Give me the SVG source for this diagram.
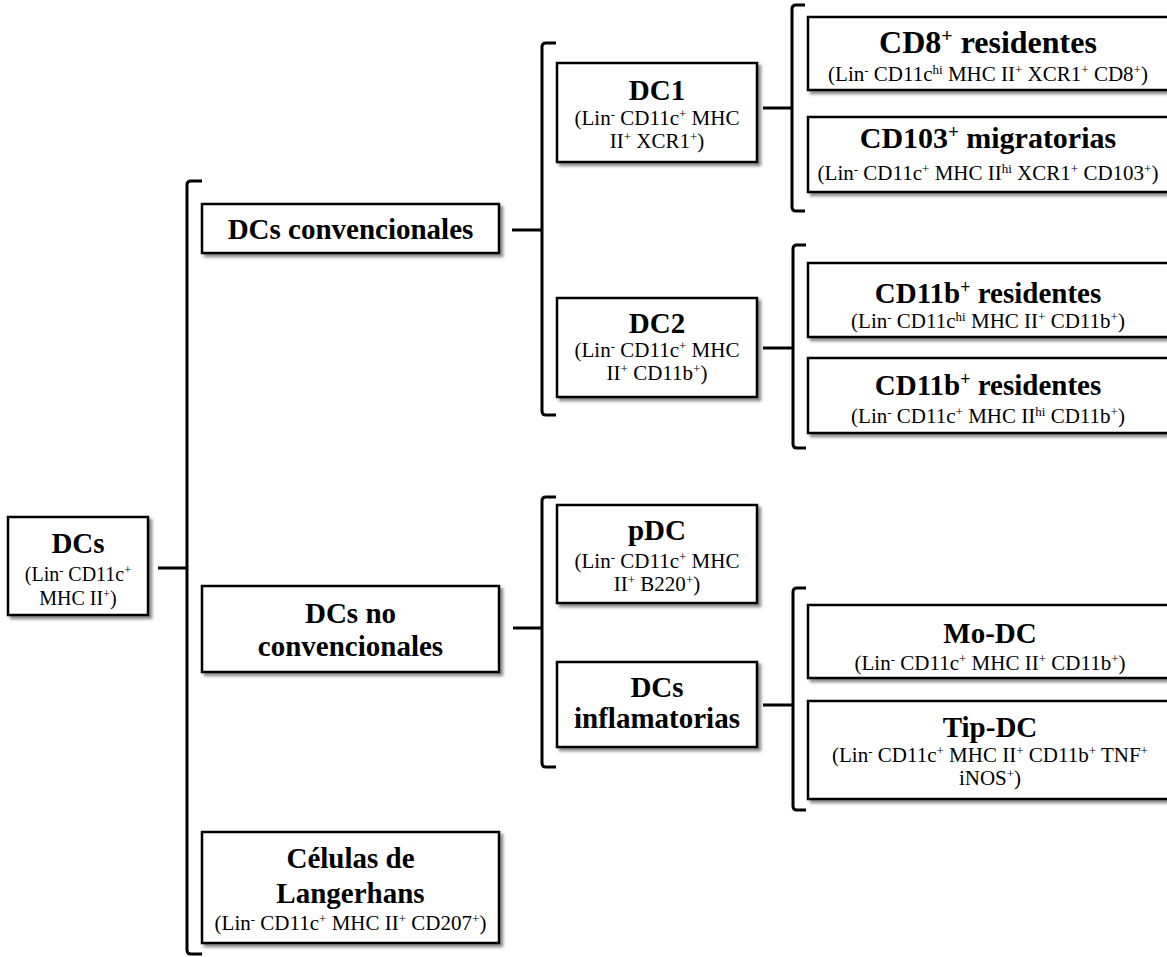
<svg xmlns="http://www.w3.org/2000/svg" width="1167" height="957" viewBox="0 0 1167 957">
<defs>
<filter id="sh" x="-5%" y="-10%" width="115%" height="130%">
<feDropShadow dx="3" dy="3" stdDeviation="1.5" flood-color="#000" flood-opacity="0.45"/>
</filter>
</defs>
<style>
.box{fill:#fff;stroke:#000;stroke-width:2.5;filter:url(#sh)}
.t{font-family:"Liberation Serif","Times New Roman",serif;font-weight:bold;font-size:29px;text-anchor:middle;fill:#000}
.s{font-family:"Liberation Serif","Times New Roman",serif;font-size:21px;text-anchor:middle;fill:#000}
.sup{font-size:62%;baseline-shift:super}
.br{fill:none;stroke:#000;stroke-width:3}
</style>
<rect width="1167" height="957" fill="#fff"/>
<g id="connectors">
<path class="br" d="M158,568 L187,568 M202,181 L191,181 Q187,181 187,185 L187,950 Q187,954 191,954 L202,954"/>
<path class="br" d="M512,230 L542,230 M556,43 L546,43 Q542,43 542,47 L542,411 Q542,415 546,415 L556,415"/>
<path class="br" d="M763,108 L792,108 M805,5 L796,5 Q792,5 792,9 L792,207 Q792,211 796,211 L805,211"/>
<path class="br" d="M763,348 L793,348 M806,245 L797,245 Q793,245 793,249 L793,444 Q793,448 797,448 L806,448"/>
<path class="br" d="M513,628 L542,628 M556,497 L546,497 Q542,497 542,501 L542,763 Q542,767 546,767 L556,767"/>
<path class="br" d="M763,705 L793,705 M806,588 L797,588 Q793,588 793,592 L793,806 Q793,810 797,810 L806,810"/>
</g>
<g id="dcs">
<rect class="box" x="8" y="517" width="140" height="98"/>
<text class="t" x="78" y="553">DCs</text>
<text class="s" x="78" y="581" style="font-size:20px">(Lin<tspan class="sup">-</tspan> CD11c<tspan class="sup">+</tspan></text>
<text class="s" x="78" y="605" style="font-size:20px">MHC II<tspan class="sup">+</tspan>)</text>
</g>
<g id="conv">
<rect class="box" x="202" y="204" width="297" height="49"/>
<text class="t" x="350.5" y="239">DCs convencionales</text>
</g>
<g id="noconv">
<rect class="box" x="202" y="586" width="297" height="86"/>
<text class="t" x="350.5" y="623">DCs no</text>
<text class="t" x="350.5" y="656">convencionales</text>
</g>
<g id="langerhans">
<rect class="box" x="202" y="832" width="297" height="111"/>
<text class="t" x="350.5" y="868">Células de</text>
<text class="t" x="350.5" y="903">Langerhans</text>
<text class="s" x="350.5" y="930">(Lin<tspan class="sup">-</tspan> CD11c<tspan class="sup">+</tspan> MHC II<tspan class="sup">+</tspan> CD207<tspan class="sup">+</tspan>)</text>
</g>
<g id="dc1">
<rect class="box" x="557" y="63" width="200" height="99"/>
<text class="t" x="657" y="100">DC1</text>
<text class="s" x="657" y="125">(Lin<tspan class="sup">-</tspan> CD11c<tspan class="sup">+</tspan> MHC</text>
<text class="s" x="657" y="148">II<tspan class="sup">+</tspan> XCR1<tspan class="sup">+</tspan>)</text>
</g>
<g id="dc2">
<rect class="box" x="557" y="298" width="200" height="99"/>
<text class="t" x="657" y="333">DC2</text>
<text class="s" x="657" y="357">(Lin<tspan class="sup">-</tspan> CD11c<tspan class="sup">+</tspan> MHC</text>
<text class="s" x="657" y="380">II<tspan class="sup">+</tspan> CD11b<tspan class="sup">+</tspan>)</text>
</g>
<g id="pdc">
<rect class="box" x="557" y="505" width="200" height="98"/>
<text class="t" x="657" y="540">pDC</text>
<text class="s" x="657" y="568">(Lin<tspan class="sup">-</tspan> CD11c<tspan class="sup">+</tspan> MHC</text>
<text class="s" x="657" y="591">II<tspan class="sup">+</tspan> B220<tspan class="sup">+</tspan>)</text>
</g>
<g id="inflam">
<rect class="box" x="557" y="662" width="200" height="85"/>
<text class="t" x="657" y="697">DCs</text>
<text class="t" x="657" y="728">inflamatorias</text>
</g>
<g id="cd8">
<rect class="box" x="808" y="17" width="380" height="73"/>
<text class="t" x="988" y="53" style="font-size:32px">CD8<tspan class="sup">+</tspan> residentes</text>
<text class="s" x="988" y="81">(Lin<tspan class="sup">-</tspan> CD11c<tspan class="sup">hi</tspan> MHC II<tspan class="sup">+</tspan> XCR1<tspan class="sup">+</tspan> CD8<tspan class="sup">+</tspan>)</text>
</g>
<g id="cd103">
<rect class="box" x="808" y="117" width="380" height="75"/>
<text class="t" x="988" y="148" style="font-size:30px">CD103<tspan class="sup">+</tspan> migratorias</text>
<text class="s" x="988" y="180">(Lin<tspan class="sup">-</tspan> CD11c<tspan class="sup">+</tspan> MHC II<tspan class="sup">hi</tspan> XCR1<tspan class="sup">+</tspan> CD103<tspan class="sup">+</tspan>)</text>
</g>
<g id="cd11b-res1">
<rect class="box" x="808" y="263" width="380" height="74"/>
<text class="t" x="988" y="303">CD11b<tspan class="sup">+</tspan> residentes</text>
<text class="s" x="988" y="328">(Lin<tspan class="sup">-</tspan> CD11c<tspan class="sup">hi</tspan> MHC II<tspan class="sup">+</tspan> CD11b<tspan class="sup">+</tspan>)</text>
</g>
<g id="cd11b-res2">
<rect class="box" x="808" y="358" width="380" height="75"/>
<text class="t" x="988" y="395">CD11b<tspan class="sup">+</tspan> residentes</text>
<text class="s" x="988" y="423">(Lin<tspan class="sup">-</tspan> CD11c<tspan class="sup">+</tspan> MHC II<tspan class="sup">hi</tspan> CD11b<tspan class="sup">+</tspan>)</text>
</g>
<g id="modc">
<rect class="box" x="808" y="605" width="380" height="73"/>
<text class="t" x="990" y="643">Mo-DC</text>
<text class="s" x="990" y="670">(Lin<tspan class="sup">-</tspan> CD11c<tspan class="sup">+</tspan> MHC II<tspan class="sup">+</tspan> CD11b<tspan class="sup">+</tspan>)</text>
</g>
<g id="tipdc">
<rect class="box" x="808" y="701" width="380" height="98"/>
<text class="t" x="990" y="737">Tip-DC</text>
<text class="s" x="990" y="762">(Lin<tspan class="sup">-</tspan> CD11c<tspan class="sup">+</tspan> MHC II<tspan class="sup">+</tspan> CD11b<tspan class="sup">+</tspan> TNF<tspan class="sup">+</tspan></text>
<text class="s" x="990" y="785">iNOS<tspan class="sup">+</tspan>)</text>
</g>
</svg>
